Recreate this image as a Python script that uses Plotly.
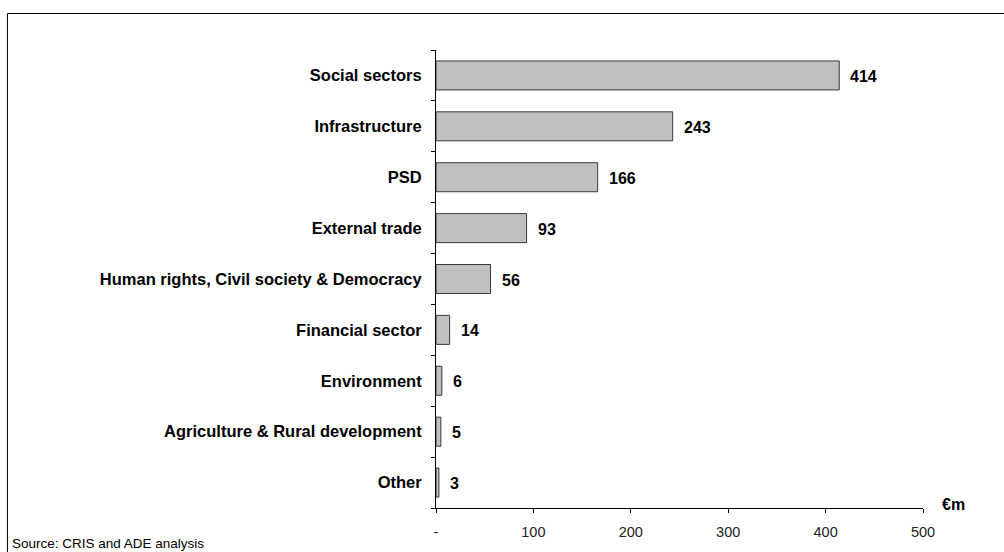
import plotly.graph_objects as go

categories = ["Social sectors", "Infrastructure", "PSD", "External trade",
              "Human rights, Civil society & Democracy", "Financial sector",
              "Environment", "Agriculture & Rural development", "Other"]
values = [414, 243, 166, 93, 56, 14, 6, 5, 3]
tick_vals = [0, 100, 200, 300, 400, 500]
tick_text = ["-", "100", "200", "300", "400", "500"]
unit_label = "€m"
source_note = "Source: CRIS and ADE analysis"

FONT = "Liberation Sans, Arial, sans-serif"

fig = go.Figure(go.Bar(
    x=values, y=categories, orientation="h",
    marker=dict(color="#C0C0C0", line=dict(color="#3a3a3a", width=1)),
    width=0.57,
))

for c, v in zip(categories, values):
    fig.add_annotation(x=v, y=c, xref="x", yref="y", text=f"<b>{v}</b>",
                       xanchor="left", yanchor="middle", xshift=9, yshift=-1,
                       showarrow=False,
                       font=dict(family=FONT, size=16, color="black"))

fig.update_layout(
    width=1004, height=552,
    margin=dict(l=436, r=81, t=50, b=44),
    paper_bgcolor="white", plot_bgcolor="white",
    showlegend=False,
    font=dict(family=FONT, color="black"),
    xaxis=dict(range=[0, 500], tickvals=tick_vals, ticktext=tick_text,
               showgrid=False, zeroline=False, showline=True, linecolor="black",
               linewidth=1, ticks="outside", ticklen=4, tickcolor="black",
               tickfont=dict(family=FONT, size=14.5, color="#222"),
               ticklabelstandoff=7),
    yaxis=dict(categoryorder="array", categoryarray=categories[::-1],
               range=[-0.5, len(categories) - 0.5],
               showgrid=False, zeroline=False, showline=True, linecolor="black",
               linewidth=1, ticks="outside", ticklen=4, tickcolor="black",
               tickson="boundaries",
               tickfont=dict(family=FONT, size=16.5, color="black"),
               ticklabelstandoff=10),
)

fig.update_yaxes(ticktext=[f"<b>{c}</b>" for c in categories[::-1]],
                 tickvals=categories[::-1])

fig.add_annotation(text=f"<b>{unit_label}</b>", xref="paper", yref="paper",
                   x=1.035, y=0.0087, xanchor="left", yanchor="middle",
                   showarrow=False, font=dict(family=FONT, size=16, color="black"))
fig.add_annotation(text=source_note, xref="paper", yref="paper",
                   x=-0.875, y=-0.0786, xanchor="left", yanchor="middle",
                   showarrow=False, font=dict(family=FONT, size=13.5, color="black"))

# outer frame (top and left edges)
fig.add_shape(type="line", xref="paper", yref="paper",
              x0=-0.880, x1=1.2, y0=1.0797, y1=1.0797,
              line=dict(color="black", width=1))
fig.add_shape(type="line", xref="paper", yref="paper",
              x0=-0.880, x1=-0.880, y0=1.0797, y1=-0.1,
              line=dict(color="black", width=1))

fig.write_html("out.html")
